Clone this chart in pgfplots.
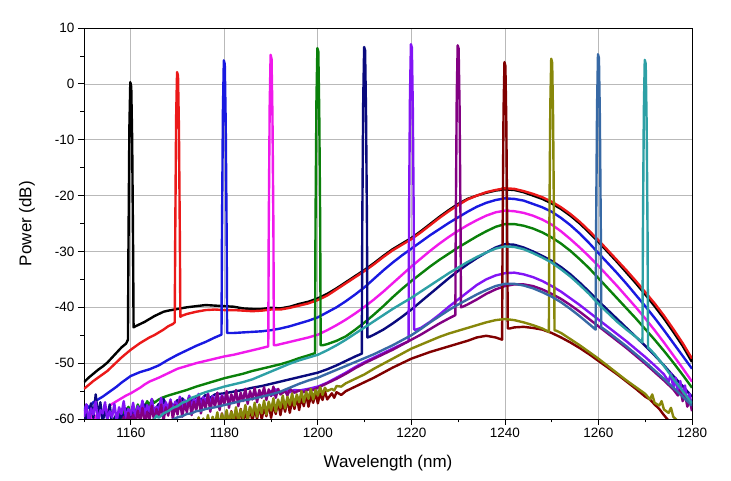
\documentclass[border=0pt]{standalone}
\usepackage{pgfplots}
\pgfplotsset{compat=1.18}
\usepackage{fontspec}
\setmainfont{Liberation Sans}

\definecolor{cRed}{RGB}{235,25,25}
\definecolor{cBlue}{RGB}{25,25,225}
\definecolor{cMag}{RGB}{240,25,235}
\definecolor{cGreen}{RGB}{10,128,10}
\definecolor{cNavy}{RGB}{10,10,125}
\definecolor{cViolet}{RGB}{130,20,245}
\definecolor{cPurple}{RGB}{130,0,130}
\definecolor{cMaroon}{RGB}{128,0,0}
\definecolor{cOlive}{RGB}{135,135,10}
\definecolor{cSteel}{RGB}{55,105,165}
\definecolor{cTeal}{RGB}{45,160,165}

\tikzset{spec/.style={line width=2.4pt, line join=round, #1}}

\begin{document}
\begin{tikzpicture}
\begin{axis}[
  scale only axis, width=608pt, height=391pt,
  xmin=1150, xmax=1280, ymin=-60, ymax=10,
  xtick={1160,1180,...,1280}, minor xtick={1150,1170,...,1270},
  ytick={-60,-50,...,10}, minor ytick={-55,-45,...,5},
  grid=major, major grid style={gray!55, line width=0.7pt},
  tick align=outside, tick pos=left,
  major tick length=6pt, minor tick length=3.5pt,
  every tick/.style={black, line width=0.8pt},
  axis line style={line width=0.9pt},
  /pgf/number format/assume math mode=true,
  /pgf/number format/1000 sep={},
  tick label style={font=\fontsize{13.5}{16}\selectfont},
  xlabel={Wavelength (nm)}, ylabel={Power (dB)},
  label style={font=\fontsize{17}{20}\selectfont},
  xlabel style={at={(axis description cs:0.5,-0.1125)}, anchor=center},
  ylabel style={at={(axis description cs:-0.0938,0.5)}, anchor=center},
]
\coordinate (bl) at (rel axis cs:0,0);
\coordinate (tr) at (rel axis cs:1,1);

% 1160 nm
\addplot[spec=black] coordinates {
(1150,-53.4)(1151,-52.6)(1152,-51.9)(1153,-51.2)(1154,-50.6)(1155,-49.9)(1156,-49.0)(1157,-48.1)(1158,-47.2)(1159,-46.5)(1159.4,-45.8)
(1159.5,-30)(1159.7,-8)(1159.9,0.3)(1160.1,-0.5)(1160.3,-10)(1160.5,-30)(1160.6,-43.6)
(1161,-43.4)(1162,-43.0)(1163,-42.6)(1164,-42.1)(1165,-41.6)(1166,-41.2)(1167,-40.8)(1168,-40.6)(1170,-40.3)(1172,-40.0)(1174,-39.8)(1176,-39.6)(1178,-39.7)(1180,-39.8)(1182,-39.9)(1184,-40.2)(1186,-40.3)(1188,-40.3)(1190,-40.1)(1192,-40.2)(1194,-39.9)(1196,-39.4)(1198,-39.0)(1200,-38.4)(1202,-37.6)(1204,-36.6)(1206,-35.5)(1208,-34.4)(1210,-33.3)(1212,-32.1)(1214,-30.8)(1216,-29.6)(1218,-28.6)(1220,-27.6)(1222,-26.4)(1224,-25.1)(1226,-23.8)(1228,-22.6)(1230,-21.5)(1232,-20.6)(1234,-20.0)(1236,-19.5)(1238,-19.1)(1240,-18.9)(1242,-19.0)(1244,-19.4)(1246,-20.0)(1248,-20.6)(1250,-21.4)(1252,-22.4)(1254,-23.6)(1256,-25.0)(1258,-26.6)(1260,-28.3)(1262,-30.1)(1264,-31.9)(1266,-33.8)(1268,-35.7)(1270,-37.7)(1272,-39.8)(1274,-42.0)(1276,-44.4)(1278,-46.9)(1280,-49.8)
};

% 1170 nm
\addplot[spec=cRed] coordinates {
(1150,-54.6)(1151,-53.9)(1152,-53.2)(1153,-52.6)(1154,-52.0)(1155,-51.4)(1156,-50.6)(1157,-49.8)(1158,-49.0)(1159,-48.3)(1160,-47.6)(1161,-47.0)(1162,-46.4)(1163,-45.9)(1164,-45.4)(1165,-45.0)(1166,-44.5)(1167,-44.0)(1168,-43.4)(1169,-43.0)(1169.4,-42.7)
(1169.5,-28)(1169.7,-6)(1169.9,2.1)(1170.1,1.5)(1170.3,-8)(1170.5,-28)(1170.6,-41.7)
(1171,-41.5)(1172,-41.2)(1174,-40.8)(1176,-40.5)(1178,-40.4)(1180,-40.5)(1182,-40.5)(1184,-40.6)(1186,-40.7)(1188,-40.6)(1190,-40.4)(1192,-40.4)(1194,-40.1)(1196,-39.7)(1198,-39.3)(1200,-38.7)(1202,-37.9)(1204,-36.8)(1206,-35.7)(1208,-34.6)(1210,-33.5)(1212,-32.3)(1214,-31.0)(1216,-29.8)(1218,-28.8)(1220,-27.8)(1222,-26.6)(1224,-25.3)(1226,-24.0)(1228,-22.8)(1230,-21.7)(1232,-20.7)(1234,-20.0)(1236,-19.4)(1238,-19.0)(1240,-18.7)(1242,-18.8)(1244,-19.2)(1246,-19.7)(1248,-20.3)(1250,-21.1)(1252,-22.1)(1254,-23.3)(1256,-24.7)(1258,-26.3)(1260,-28.0)(1262,-29.8)(1264,-31.6)(1266,-33.4)(1268,-35.3)(1270,-37.3)(1272,-39.3)(1274,-41.5)(1276,-43.9)(1278,-46.4)(1280,-49.2)
};

% 1180 nm
\addplot[spec=cBlue] coordinates {
(1150,-58.6)(1150.5,-57.4)(1151,-58.0)(1152,-57.0)(1153,-56.5)(1154,-56.0)(1155,-55.4)(1156,-54.8)(1157,-54.2)(1158,-53.5)(1159,-52.9)(1160,-52.3)(1162,-51.6)(1164,-51.1)(1166,-50.4)(1168,-49.4)(1170,-48.5)(1172,-47.7)(1174,-46.9)(1176,-46.2)(1178,-45.4)(1179.4,-44.9)
(1179.5,-27)(1179.7,-5)(1179.9,4.2)(1180.1,3.5)(1180.3,-7)(1180.5,-27)(1180.6,-44.6)
(1181,-44.6)(1182,-44.6)(1184,-44.5)(1186,-44.4)(1188,-44.3)(1190,-44.1)(1192,-43.8)(1194,-43.4)(1196,-42.9)(1198,-42.4)(1200,-41.8)(1202,-40.9)(1204,-40.0)(1206,-38.9)(1208,-37.7)(1210,-36.4)(1212,-34.9)(1214,-33.4)(1216,-32.0)(1218,-30.7)(1220,-29.5)(1222,-28.3)(1224,-27.1)(1226,-26.0)(1228,-24.9)(1230,-23.9)(1232,-22.9)(1234,-22.0)(1236,-21.3)(1238,-20.8)(1240,-20.5)(1242,-20.6)(1244,-20.9)(1246,-21.5)(1248,-22.1)(1250,-22.9)(1252,-24.0)(1254,-25.3)(1256,-26.8)(1258,-28.5)(1260,-30.3)(1262,-32.1)(1264,-33.9)(1266,-35.8)(1268,-37.8)(1270,-39.8)(1272,-41.9)(1274,-44.1)(1276,-46.4)(1278,-48.7)(1280,-51.0)
};

% 1190 nm
\addplot[spec=cMag] coordinates {
(1150,-61.5)(1150.5,-59.2)(1151,-60.8)(1151.5,-58.6)(1152,-61.0)(1152.5,-59.4)(1153,-60.5)(1153.5,-58.3)(1154,-59.6)(1154.5,-57.9)(1155,-59.0)(1155.5,-57.6)(1156,-57.3)(1157,-56.8)(1158,-56.3)(1159,-55.8)(1160,-55.4)(1161,-54.9)(1162,-54.4)(1163,-53.8)(1164,-53.3)(1166,-52.6)(1168,-51.8)(1170,-51.0)(1172,-50.5)(1174,-50.0)(1176,-49.6)(1178,-49.2)(1180,-48.8)(1182,-48.5)(1184,-48.1)(1186,-47.7)(1188,-47.3)(1189.4,-47.0)
(1189.5,-26)(1189.7,-4)(1189.9,5.2)(1190.1,4.5)(1190.3,-6)(1190.5,-26)(1190.6,-46.8)
(1191,-46.8)(1192,-46.6)(1194,-46.2)(1196,-45.8)(1198,-45.4)(1200,-44.9)(1202,-44.1)(1204,-43.2)(1206,-42.2)(1208,-41.1)(1210,-39.9)(1212,-38.6)(1214,-37.2)(1216,-35.7)(1218,-34.2)(1220,-32.7)(1222,-31.3)(1224,-29.9)(1226,-28.6)(1228,-27.4)(1230,-26.3)(1232,-25.3)(1234,-24.4)(1236,-23.6)(1238,-23.0)(1240,-22.7)(1242,-22.8)(1244,-23.1)(1246,-23.6)(1248,-24.3)(1250,-25.2)(1252,-26.4)(1254,-27.8)(1256,-29.3)(1258,-30.9)(1260,-32.6)(1262,-34.4)(1264,-36.2)(1266,-38.1)(1268,-40.0)(1270,-42.0)(1272,-44.1)(1274,-46.3)(1276,-48.6)(1278,-50.9)(1280,-53.3)
};

% 1200 nm
\addplot[spec=cGreen] coordinates {
(1156,-61.5)(1156.5,-59.8)(1157,-60.9)(1157.5,-58.9)(1158,-60.2)(1158.5,-58.2)(1159,-59.7)(1159.5,-57.8)(1160,-59.3)(1160.5,-58.0)(1161,-58.9)(1161.5,-57.4)(1162,-58.4)(1162.5,-57.2)(1163,-57.9)(1163.5,-56.8)(1164,-57.6)(1164.5,-56.5)(1165,-57.1)(1166,-56.5)(1167,-56.1)(1168,-55.8)(1170,-55.3)(1172,-54.8)(1174,-54.2)(1176,-53.7)(1178,-53.2)(1180,-52.7)(1182,-52.3)(1184,-51.9)(1186,-51.4)(1188,-51.0)(1190,-50.6)(1192,-50.2)(1194,-49.7)(1196,-49.1)(1198,-48.6)(1199.4,-48.2)
(1199.5,-25)(1199.7,-3)(1199.9,6.4)(1200.1,5.8)(1200.3,-5)(1200.5,-25)(1200.6,-46.8)
(1201,-46.8)(1202,-46.6)(1204,-46.0)(1206,-45.2)(1208,-44.0)(1210,-42.7)(1212,-41.3)(1214,-39.8)(1216,-38.2)(1218,-36.7)(1220,-35.3)(1222,-34.0)(1224,-32.7)(1226,-31.5)(1228,-30.4)(1230,-29.3)(1232,-28.3)(1234,-27.3)(1236,-26.4)(1238,-25.6)(1240,-25.1)(1242,-25.1)(1244,-25.4)(1246,-25.9)(1248,-26.6)(1250,-27.5)(1252,-28.6)(1254,-29.9)(1256,-31.4)(1258,-33.0)(1260,-34.8)(1262,-36.6)(1264,-38.4)(1266,-40.2)(1268,-42.0)(1270,-43.9)(1272,-45.8)(1274,-47.8)(1276,-49.9)(1278,-52.1)(1280,-54.4)
};

% 1210 nm
\addplot[spec=cNavy] coordinates {
(1150,-61.0)(1150.5,-59.0)(1151,-60.5)(1151.5,-57.2)(1152,-59.8)(1152.5,-55.6)(1153,-59.5)(1153.5,-57.0)(1154,-60.8)(1154.5,-58.0)(1155,-60.2)(1155.5,-57.4)(1156,-61.0)(1157,-59.0)(1157.5,-60.6)(1158,-58.6)(1158.5,-60.4)(1159,-58.1)(1160,-60.0)(1160.5,-57.8)(1161,-59.6)(1162,-58.0)(1162.5,-59.2)(1163,-57.4)(1164,-59.0)(1164.5,-56.8)(1165,-58.6)(1166,-57.3)(1166.5,-58.5)(1167,-56.4)(1168,-58.2)(1168.5,-56.9)(1169,-57.8)(1170,-56.6)(1170.5,-57.7)(1171,-56.3)(1172,-57.3)(1172.5,-56.0)(1173,-57.0)(1174,-55.9)(1175,-56.6)(1176,-55.7)(1177,-56.2)(1178,-55.6)(1180,-55.4)(1182,-55.1)(1184,-54.8)(1186,-54.4)(1188,-54.1)(1190,-53.7)(1192,-53.3)(1194,-52.9)(1196,-52.5)(1198,-52.1)(1200,-51.7)(1202,-51.1)(1204,-50.4)(1206,-49.6)(1208,-48.8)(1209.4,-48.3)
(1209.5,-25)(1209.7,-3)(1209.9,6.6)(1210.1,6.0)(1210.3,-5)(1210.5,-25)(1210.6,-45.4)
(1211,-45.3)(1212,-44.9)(1214,-44.0)(1216,-42.9)(1218,-41.7)(1220,-40.4)(1222,-39.0)(1224,-37.6)(1226,-36.2)(1228,-34.8)(1230,-33.5)(1232,-32.3)(1234,-31.2)(1236,-30.2)(1238,-29.3)(1240,-28.7)(1242,-28.8)(1244,-29.3)(1246,-30.0)(1248,-30.8)(1250,-31.7)(1252,-32.8)(1254,-34.1)(1256,-35.6)(1258,-37.2)(1260,-38.9)(1262,-40.5)(1264,-42.1)(1266,-43.7)(1268,-45.3)(1270,-46.9)(1272,-48.6)(1274,-50.4)(1276,-52.3)(1278,-54.1)(1280,-56.0)
};

% 1220 nm
\addplot[spec=cViolet] coordinates {
(1150,-59.6)(1150.5,-57.4)(1151,-60.3)(1151.5,-58.1)(1152,-59.2)(1152.5,-56.9)(1153,-60.6)(1153.5,-58.4)(1154,-59.0)(1154.5,-57.0)(1155,-60.1)(1155.5,-58.6)(1156,-59.7)(1156.5,-57.3)(1157,-60.4)(1157.5,-57.9)(1158,-59.1)(1158.5,-56.8)(1159,-60.0)(1159.5,-58.2)(1160,-59.3)(1160.5,-57.1)(1161,-59.9)(1161.5,-57.7)(1162,-58.9)(1162.5,-56.7)(1163,-59.6)(1163.5,-57.5)(1164,-58.7)(1164.5,-56.4)(1165,-59.2)(1165.5,-57.8)(1166,-58.4)(1166.5,-56.2)(1167,-59.0)(1167.5,-57.0)(1168,-58.2)(1168.5,-56.5)(1169,-58.8)(1169.5,-56.9)(1170,-58.0)(1170.5,-56.0)(1171,-58.5)(1171.5,-56.6)(1172,-57.6)(1172.5,-55.8)(1173,-58.1)(1173.5,-56.4)(1174,-57.3)(1174.5,-55.5)(1175,-57.9)(1175.5,-56.1)(1176,-57.0)(1176.5,-55.4)(1177,-57.5)(1177.5,-55.9)(1178,-56.8)(1178.5,-55.3)(1179,-57.2)(1179.5,-55.7)(1180,-56.9)(1180.5,-55.4)(1181,-57.3)(1181.5,-55.7)(1182,-56.7)(1182.5,-55.2)(1183,-57.0)(1183.5,-55.6)(1184,-56.4)(1184.5,-55.0)(1185,-56.6)(1185.5,-55.3)(1186,-56.1)(1186.5,-54.9)(1187,-56.3)(1187.5,-55.1)(1188,-55.8)(1188.5,-54.7)(1189,-56.0)(1190,-55.0)(1190.5,-55.7)(1191,-54.7)(1192,-55.4)(1193,-54.8)(1194,-55.2)(1195,-54.8)(1196,-54.9)(1198,-54.6)(1200,-54.2)(1202,-53.5)(1204,-52.6)(1206,-51.7)(1208,-50.7)(1210,-49.8)(1212,-49.0)(1214,-48.2)(1216,-47.4)(1218,-46.6)(1219.4,-46.1)
(1219.5,-24)(1219.7,-2)(1219.9,7.1)(1220.1,6.5)(1220.3,-4)(1220.5,-24)(1220.6,-44.0)
(1221,-44.0)(1222,-43.7)(1224,-42.6)(1226,-41.3)(1228,-39.9)(1230,-38.6)(1232,-37.3)(1234,-36.0)(1236,-35.0)(1238,-34.3)(1240,-33.9)(1242,-33.8)(1244,-34.1)(1246,-34.6)(1248,-35.3)(1250,-36.2)(1252,-37.2)(1254,-38.4)(1256,-39.6)(1258,-40.9)(1260,-42.2)(1262,-43.5)(1264,-44.8)(1266,-46.1)(1268,-47.5)(1270,-48.9)(1272,-50.4)(1274,-52.0)(1275,-53.3)(1275.5,-51.8)(1276,-54.5)(1276.5,-52.6)(1277,-55.6)(1277.5,-53.2)(1278,-56.3)(1278.5,-54.0)(1279,-57.0)(1279.5,-55.5)(1280,-58.0)
};

% 1230 nm
\addplot[spec=cPurple] coordinates {
(1158,-61.5)(1158.5,-59.6)(1159,-61.2)(1159.5,-58.9)(1160,-60.8)(1160.5,-59.2)(1161,-61.0)(1161.5,-58.5)(1162,-60.4)(1162.5,-58.0)(1163,-60.9)(1163.5,-58.7)(1164,-60.2)(1164.5,-57.6)(1165,-60.5)(1165.5,-58.2)(1166,-59.7)(1166.5,-57.4)(1167,-60.3)(1167.5,-57.9)(1168,-59.4)(1168.5,-56.9)(1169,-60.0)(1169.5,-57.5)(1170,-59.2)(1170.5,-56.6)(1171,-59.6)(1171.5,-57.2)(1172,-58.8)(1172.5,-56.3)(1173,-59.3)(1173.5,-56.9)(1174,-58.5)(1174.5,-55.9)(1175,-59.0)(1175.5,-56.6)(1176,-58.1)(1176.5,-55.6)(1177,-58.7)(1177.5,-56.2)(1178,-57.8)(1178.5,-55.3)(1179,-58.4)(1179.5,-55.9)(1180,-57.4)(1180.5,-55.0)(1181,-58.0)(1181.5,-55.6)(1182,-57.1)(1182.5,-54.8)(1183,-57.7)(1183.5,-55.3)(1184,-56.8)(1184.5,-54.6)(1185,-57.3)(1185.5,-55.0)(1186,-56.5)(1186.5,-54.4)(1187,-57.0)(1187.5,-54.8)(1188,-56.2)(1188.5,-54.3)(1189,-56.6)(1189.5,-54.7)(1190,-55.9)(1190.5,-54.2)(1191,-56.2)(1191.5,-54.6)(1192,-55.6)(1193,-55.0)(1193.5,-55.8)(1194,-54.6)(1195,-55.3)(1196,-54.9)(1197,-55.2)(1198,-54.7)(1199,-54.8)(1200,-54.4)(1202,-53.6)(1204,-52.8)(1206,-51.9)(1208,-50.9)(1210,-50.0)(1212,-49.2)(1214,-48.4)(1216,-47.6)(1218,-46.7)(1220,-45.8)(1222,-44.9)(1224,-43.9)(1226,-42.9)(1228,-42.0)(1229.4,-41.4)
(1229.5,-24)(1229.7,-2)(1229.9,6.9)(1230.1,6.3)(1230.3,-4)(1230.5,-24)(1230.6,-40.0)
(1231,-39.9)(1232,-39.5)(1234,-38.6)(1236,-37.6)(1238,-36.8)(1240,-36.2)(1242,-35.9)(1244,-35.9)(1246,-36.2)(1248,-36.8)(1250,-37.6)(1252,-38.5)(1254,-39.6)(1256,-40.8)(1258,-42.1)(1260,-43.4)(1262,-44.7)(1264,-46.0)(1266,-47.3)(1268,-48.7)(1270,-50.1)(1272,-51.6)(1274,-53.1)(1276,-54.7)(1277,-55.8)(1277.5,-54.6)(1278,-56.8)(1278.5,-55.5)(1279,-57.8)(1279.5,-56.6)(1280,-58.6)
};

% 1240 nm
\addplot[spec=cMaroon] coordinates {
(1176,-62.5)(1176.5,-60.4)(1177,-62.0)(1177.5,-59.8)(1178,-61.8)(1178.5,-59.5)(1179,-61.4)(1179.5,-59.0)(1180,-61.6)(1180.5,-59.2)(1181,-61.0)(1181.5,-58.6)(1182,-61.2)(1182.5,-58.9)(1183,-60.6)(1183.5,-58.2)(1184,-60.9)(1184.5,-58.6)(1185,-60.3)(1185.5,-57.9)(1186,-60.5)(1186.5,-58.1)(1187,-60.0)(1187.5,-57.5)(1188,-60.1)(1188.5,-57.8)(1189,-59.5)(1189.5,-57.1)(1190,-59.8)(1190.5,-57.4)(1191,-59.1)(1191.5,-56.8)(1192,-59.3)(1192.5,-57.0)(1193,-58.7)(1193.5,-56.3)(1194,-58.9)(1194.5,-56.6)(1195,-58.2)(1195.5,-56.0)(1196,-58.4)(1196.5,-56.1)(1197,-57.7)(1197.5,-55.6)(1198,-57.8)(1198.5,-55.8)(1199,-57.1)(1199.5,-55.3)(1200,-57.2)(1200.5,-55.4)(1201,-56.6)(1201.5,-55.0)(1202,-56.5)(1203,-55.4)(1203.5,-56.2)(1204,-55.2)(1205,-55.7)(1206,-55.0)(1208,-54.2)(1210,-53.4)(1212,-52.6)(1214,-51.7)(1216,-50.8)(1218,-50.0)(1220,-49.2)(1222,-48.6)(1224,-48.0)(1226,-47.5)(1228,-47.0)(1230,-46.5)(1232,-46.0)(1234,-45.4)(1236,-45.1)(1238,-45.4)(1239.4,-45.8)
(1239.5,-27)(1239.7,-5)(1239.9,3.9)(1240.1,3.2)(1240.3,-7)(1240.5,-27)(1240.6,-43.8)
(1241,-43.8)(1242,-43.6)(1244,-43.5)(1246,-43.7)(1248,-44.0)(1250,-44.6)(1252,-45.4)(1254,-46.3)(1256,-47.3)(1258,-48.4)(1260,-49.6)(1262,-50.8)(1264,-52.0)(1266,-53.3)(1268,-54.6)(1270,-56.0)(1271,-56.5)(1272,-57.4)(1273,-58.2)(1274,-59.3)(1275,-60.3)(1276,-61.5)
};

% 1250 nm
\addplot[spec=cOlive] coordinates {
(1172,-62.5)(1172.5,-60.6)(1173,-62.2)(1173.5,-60.1)(1174,-61.9)(1174.5,-59.7)(1175,-62.0)(1175.5,-59.9)(1176,-61.5)(1176.5,-59.3)(1177,-61.7)(1177.5,-59.6)(1178,-61.1)(1178.5,-58.8)(1179,-61.3)(1179.5,-59.1)(1180,-60.7)(1180.5,-58.4)(1181,-60.9)(1181.5,-58.7)(1182,-60.3)(1182.5,-57.9)(1183,-60.5)(1183.5,-58.3)(1184,-59.9)(1184.5,-57.5)(1185,-60.1)(1185.5,-57.8)(1186,-59.4)(1186.5,-57.1)(1187,-59.6)(1187.5,-57.4)(1188,-59.0)(1188.5,-56.7)(1189,-59.2)(1189.5,-56.9)(1190,-58.5)(1190.5,-56.3)(1191,-58.7)(1191.5,-56.5)(1192,-58.0)(1192.5,-55.8)(1193,-58.1)(1193.5,-56.0)(1194,-57.5)(1194.5,-55.4)(1195,-57.6)(1195.5,-55.6)(1196,-57.0)(1196.5,-55.0)(1197,-57.0)(1197.5,-55.1)(1198,-56.4)(1198.5,-54.6)(1199,-56.5)(1199.5,-54.8)(1200,-55.8)(1200.5,-54.3)(1201,-55.7)(1201.5,-54.4)(1202,-55.0)(1203,-54.6)(1203.5,-54.9)(1204,-54.1)(1205,-54.2)(1206,-53.6)(1208,-52.8)(1210,-52.0)(1212,-51.0)(1214,-50.1)(1216,-49.2)(1218,-48.3)(1220,-47.4)(1222,-46.7)(1224,-46.0)(1226,-45.3)(1228,-44.7)(1230,-44.2)(1232,-43.7)(1234,-43.2)(1236,-42.7)(1238,-42.3)(1240,-42.1)(1242,-42.3)(1244,-42.7)(1246,-43.2)(1248,-43.8)(1249.4,-44.4)
(1249.5,-26)(1249.7,-4)(1249.9,4.5)(1250.1,3.8)(1250.3,-6)(1250.5,-26)(1250.6,-44.1)
(1251,-44.2)(1252,-44.6)(1254,-45.7)(1256,-46.8)(1258,-48.0)(1260,-49.2)(1262,-50.5)(1264,-51.8)(1266,-53.1)(1268,-54.3)(1270,-55.5)(1271,-56.5)(1271.5,-55.6)(1272,-57.1)(1273,-57.6)(1273.5,-56.8)(1274,-58.3)(1275,-58.9)(1275.5,-58.0)(1276,-59.6)(1277,-60.4)(1278,-61.5)
};

% 1260 nm
\addplot[spec=cSteel] coordinates {
(1167,-61.5)(1168,-60.6)(1169,-60.1)(1170,-59.7)(1171,-59.5)(1172,-59.1)(1173,-59.0)(1174,-58.6)(1175,-58.5)(1176,-58.2)(1178,-57.9)(1180,-57.5)(1182,-57.1)(1184,-56.7)(1186,-56.4)(1188,-56.0)(1190,-55.6)(1192,-55.1)(1194,-54.4)(1196,-53.7)(1198,-53.1)(1200,-52.6)(1202,-51.9)(1204,-51.2)(1206,-50.5)(1208,-49.8)(1210,-49.1)(1212,-48.4)(1214,-47.6)(1216,-46.8)(1218,-45.9)(1220,-45.0)(1222,-43.9)(1224,-42.7)(1226,-41.6)(1228,-40.5)(1230,-39.5)(1232,-38.6)(1234,-37.7)(1236,-36.9)(1238,-36.2)(1240,-35.8)(1242,-35.8)(1244,-36.1)(1246,-36.6)(1248,-37.3)(1250,-38.1)(1252,-39.1)(1254,-40.3)(1256,-41.6)(1258,-43.0)(1259.4,-44.0)
(1259.5,-26)(1259.7,-4)(1259.9,5.3)(1260.1,4.6)(1260.3,-6)(1260.5,-26)(1260.6,-43.6)
(1261,-43.8)(1262,-44.4)(1264,-45.7)(1266,-47.0)(1268,-48.4)(1270,-49.8)(1272,-51.3)(1274,-52.8)(1276,-54.4)(1278,-56.0)(1280,-57.6)
};

% 1270 nm
\addplot[spec=cTeal] coordinates {
(1163,-61.5)(1164,-60.6)(1165,-60.1)(1165.5,-59.4)(1166,-59.8)(1167,-59.0)(1168,-58.6)(1169,-58.0)(1170,-57.7)(1171,-57.1)(1172,-56.8)(1173,-56.2)(1174,-55.9)(1175,-55.5)(1176,-55.2)(1178,-54.7)(1180,-54.2)(1182,-53.8)(1184,-53.4)(1186,-52.9)(1188,-52.2)(1190,-51.5)(1192,-50.8)(1194,-50.1)(1196,-49.5)(1198,-49.0)(1200,-48.5)(1202,-47.7)(1204,-46.8)(1206,-45.8)(1208,-44.7)(1210,-43.6)(1212,-42.5)(1214,-41.4)(1216,-40.3)(1218,-39.3)(1220,-38.3)(1222,-37.2)(1224,-36.1)(1226,-35.0)(1228,-33.9)(1230,-32.9)(1232,-31.9)(1234,-31.0)(1236,-30.2)(1238,-29.5)(1240,-29.1)(1242,-29.2)(1244,-29.6)(1246,-30.3)(1248,-31.1)(1250,-32.0)(1252,-33.2)(1254,-34.5)(1256,-36.0)(1258,-37.6)(1260,-39.4)(1262,-41.0)(1264,-42.6)(1266,-44.0)(1268,-45.3)(1269.4,-46.3)
(1269.5,-27)(1269.7,-5)(1269.9,4.3)(1270.1,3.6)(1270.3,-7)(1270.5,-27)(1270.6,-47.2)
(1271,-47.5)(1272,-48.4)(1274,-50.5)(1276,-52.8)(1278,-55.0)(1280,-57.2)
};
\end{axis}
\pgfresetboundingbox
\path[use as bounding box] ([xshift=-84pt,yshift=-62pt]bl) rectangle ([xshift=39pt,yshift=28pt]tr);
\end{tikzpicture}
\end{document}
